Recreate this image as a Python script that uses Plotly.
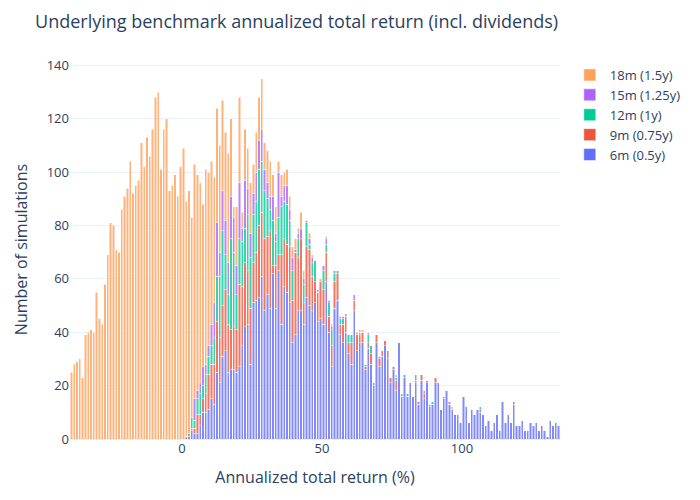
import plotly.graph_objects as go

# Histogram bins: width 1 (%), from -40 to 135
BIN_START = -40
BIN_WIDTH = 1
N_BINS = 175

series_names = ["6m (0.5y)", "9m (0.75y)", "12m (1y)", "15m (1.25y)", "18m (1.5y)"]
series_colors = ["#636EFA", "#EF553B", "#00CC96", "#AB63FA", "#FFA15A"]

# counts per bin, 41 leading empty bins (-40..1) for the shorter-horizon series
lead_zeros = [0] * 41

counts_6m = lead_zeros + [
    1, 0, 3, 2, 2, 5, 10, 10, 11, 15,
    13, 25, 21, 31, 33, 25, 26, 26, 25, 27,
    35, 42, 43, 28, 51, 52, 53, 61, 48, 54,
    49, 62, 49, 63, 43, 57, 55, 51, 36, 39,
    48, 48, 43, 53, 50, 48, 51, 44, 45, 43,
    59, 40, 27, 49, 52, 39, 36, 40, 32, 28,
    48, 33, 36, 36, 26, 34, 28, 20, 36, 27,
    31, 35, 30, 21, 26, 18, 36, 16, 23, 16,
    21, 16, 21, 13, 22, 15, 21, 12, 13, 21,
    21, 11, 15, 18, 13, 11, 9, 9, 6, 16,
    12, 6, 11, 9, 11, 10, 9, 5, 7, 3,
    6, 9, 3, 14, 6, 9, 6, 13, 5, 5,
    7, 3, 3, 6, 5, 6, 3, 5, 3, 1,
    7, 5, 6, 5,
]

counts_9m = lead_zeros + [
    0, 1, 1, 2, 7, 4, 5, 7, 13, 13,
    15, 19, 17, 19, 23, 18, 15, 16, 16, 31,
    22, 24, 20, 21, 15, 18, 27, 24, 27, 22,
    29, 3, 16, 6, 26, 18, 18, 21, 16, 31,
    20, 27, 8, 19, 21, 13, 8, 11, 14, 13,
    11, 6, 8, 10, 10, 4, 7, 6, 4, 8,
    4, 6, 3, 4, 1, 2, 4, 0, 3, 3,
    2, 2, 3, 2, 1, 4, 0, 0, 0, 0,
    0, 0, 1, 1, 2, 2, 1, 0, 0, 2,
    0, 0, 1, 0, 0, 0, 0, 0, 0, 0,
    0, 0, 0, 0, 0, 1, 0, 0, 0, 0,
    0, 0, 0, 0, 0, 0, 0, 1, 0, 0,
    0, 0, 0, 0, 0, 0, 0, 0, 0, 0,
    0, 0, 0, 0,
]

counts_12m = lead_zeros + [
    0, 1, 4, 3, 6, 8, 5, 7, 7, 7,
    10, 17, 23, 28, 13, 11, 34, 28, 13, 17,
    17, 13, 21, 19, 18, 19, 21, 19, 18, 14,
    8, 17, 9, 14, 18, 14, 15, 10, 11, 0,
    7, 0, 7, 9, 2, 5, 8, 0, 0, 7,
    3, 5, 6, 3, 1, 2, 2, 1, 3, 3,
    0, 0, 1, 0, 1, 3, 3, 1, 0, 0,
    0, 0, 0, 0, 0, 1, 0, 1, 1, 1,
    0, 0, 2, 0, 0, 0, 0, 1, 1, 0,
    0, 0, 0, 0, 0, 0, 0, 0, 0, 0,
    0, 0, 0, 0, 0, 1, 0, 0, 0, 0,
    0, 0, 0, 0, 0, 0, 0, 0, 0, 0,
    0, 0, 0, 0, 0, 0, 0, 0, 0, 0,
    0, 0, 0, 0,
]

counts_15m = lead_zeros + [
    0, 0, 0, 8, 3, 4, 7, 4, 4, 8,
    13, 20, 9, 15, 13, 12, 16, 13, 11, 21,
    5, 18, 10, 9, 8, 11, 11, 12, 8, 6,
    5, 9, 3, 17, 4, 6, 7, 4, 5, 1,
    2, 4, 2, 1, 2, 2, 0, 1, 0, 2,
    2, 1, 1, 1, 0, 1, 1, 0, 0, 0,
    2, 0, 0, 0, 0, 1, 0, 0, 0, 1,
    0, 0, 0, 0, 0, 0, 0, 0, 0, 0,
    0, 0, 0, 0, 0, 1, 0, 0, 0, 0,
    0, 0, 0, 0, 1, 0, 0, 0, 0, 0,
    0, 0, 0, 0, 0, 0, 0, 0, 0, 0,
    0, 0, 0, 0, 0, 0, 0, 0, 0, 0,
    0, 0, 0, 0, 0, 0, 0, 0, 0, 0,
    0, 0, 0, 0,
]

counts_18m = [
    25, 28, 29, 30, 23, 39, 40, 41, 40, 55,
    45, 43, 58, 69, 81, 80, 71, 70, 86, 91,
    94, 104, 92, 95, 97, 111, 102, 113, 106, 116,
    128, 130, 101, 116, 120, 93, 95, 99, 91, 102,
    109,
    88, 91, 75, 88, 81, 75, 61, 73, 65, 61,
    47, 43, 40, 34, 33, 41, 29, 4, 22, 32,
    6, 19, 15, 19, 11, 15, 16, 19, 10, 12,
    13, 8, 10, 4, 8, 5, 6, 5, 4, 4,
    2, 6, 3, 0, 2, 1, 0, 0, 1, 0,
    1, 0, 1, 0, 0, 0, 0, 0, 0, 0,
    0, 1, 1, 1, 0, 0, 0, 0, 0, 0,
    0, 0, 0, 0, 0, 1, 0, 0, 0, 0,
    0, 0, 0, 0, 0, 0, 0, 0, 0, 0,
    0, 0, 0, 0, 0, 1, 0, 0, 0, 0,
    0, 0, 0, 0, 0, 0, 0, 0, 0, 0,
    0, 0, 0, 0, 0, 0, 0, 0, 0, 0,
    0, 0, 0, 0, 0, 0, 0, 0, 0, 0,
    0, 0, 0, 0,
]

series_counts = [counts_6m, counts_9m, counts_12m, counts_15m, counts_18m]

bin_centers = [BIN_START + BIN_WIDTH * (i + 0.5) for i in range(N_BINS)]

FONT = '"Open Sans", verdana, arial, sans-serif'

fig = go.Figure()
for name, color, counts in zip(series_names, series_colors, series_counts):
    fig.add_trace(go.Bar(
        x=bin_centers,
        y=counts,
        name=name,
        marker=dict(color=color, opacity=0.8, line=dict(color="white", width=0.5)),
    ))

fig.update_layout(
    template="plotly_white",
    width=700,
    height=500,
    barmode="stack",
    bargap=0.2,
    font=dict(family=FONT, color="#2a3f5f", size=13),
    title=dict(
        text="Underlying benchmark annualized total return (incl. dividends)",
        x=0.0386, xanchor="left", y=0.972, yanchor="middle",
    ),
    margin=dict(l=60, r=148, t=52, b=69),
    legend=dict(traceorder="reversed"),
    xaxis=dict(
        title=dict(text="Annualized total return (%)"),
        range=[-40, 135],
        dtick=50,
        showgrid=False,
        zeroline=False,
    ),
    yaxis=dict(
        title=dict(text="Number of simulations"),
        range=[0, 142],
        dtick=20,
    ),
)

fig.write_html("out.html")
